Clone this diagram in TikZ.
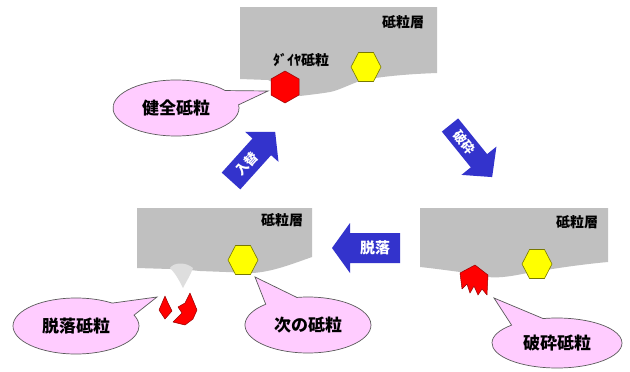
\documentclass[tikz,border=0pt]{standalone}
\usepackage{fontspec}
\newfontfamily\jp{Noto Sans CJK JP}
\usetikzlibrary{shapes.callouts}
\definecolor{layergray}{RGB}{192,192,192}
\definecolor{craterg}{RGB}{222,222,222}
\definecolor{arrowblue}{RGB}{51,51,204}
\definecolor{calloutpink}{RGB}{255,204,255}
\definecolor{bubbleline}{RGB}{90,90,90}
\definecolor{hexred}{RGB}{255,0,0}
\definecolor{hexredline}{RGB}{150,0,0}
\definecolor{hexyellow}{RGB}{255,255,0}
\definecolor{hexyellowline}{RGB}{120,120,0}
\tikzset{
  layer/.style={fill=layergray},
  layertext/.style={font=\jp\bfseries\fontsize{14}{14}\selectfont, inner sep=0pt},
  arrowtext/.style={font=\jp\bfseries\fontsize{15}{15}\selectfont, text=white, inner sep=0pt},
  smallarrowtext/.style={font=\jp\bfseries\fontsize{13}{13}\selectfont},
  bubble/.style={ellipse callout, draw=bubbleline, line width=0.7pt, fill=calloutpink,
    minimum width=126pt, minimum height=56pt, inner sep=0pt, callout pointer arc=32,
    font=\jp\bfseries\fontsize{17}{17}\selectfont},
  yhex/.style={fill=hexyellow, draw=hexyellowline, line width=0.6pt},
  rgrain/.style={fill=hexred, draw=hexredline, line width=0.5pt, line join=round},
}
% #1 tail centre, #2 angle, #3 length, #4 body width, #5 head width, #6 head length, #7 text options, #8 text, #9 name
\newcommand\blkarrow[9]{%
  \begin{scope}[shift={#1},rotate=#2]
    \fill[arrowblue] (0,-#4/2) -- ({#3-#6},-#4/2) -- ({#3-#6},-#5/2) -- (#3,0) -- ({#3-#6},#5/2) -- ({#3-#6},#4/2) -- (0,#4/2) -- cycle;
    \node[arrowtext,#7] (#9) at ({(#3-#6)/2},0) {#8};
  \end{scope}}
\newcommand\yellowhex[1]{%
  \begin{scope}[shift={#1}]
    \filldraw[yhex] (-15,0) -- (-7.5,-14.5) -- (7.5,-14.5) -- (15,0) -- (7.5,14.5) -- (-7.5,14.5) -- cycle;
  \end{scope}}
\begin{document}
\begin{tikzpicture}[x=1pt,y=-1pt]
\useasboundingbox (0,0) rectangle (630,372);
\fill[white] (0,0) rectangle (630,372);

% ---- top panel ----
\fill[layer] (240,7) -- (437,7) -- (437,73) .. controls (410,74) and (385,76) .. (363,80)
  .. controls (350,84) and (340,90) .. (330,92) .. controls (318,94) and (308,95) .. (300,96)
  -- (268,80) -- (240,79) -- cycle;
\node[layertext] (layerT) at (403,22) {砥粒層};
\node[layertext] (diaT) at (301,60) {ﾀﾞｲﾔ砥粒};
\filldraw[rgrain] (285,71) -- (299,79) -- (299,95) -- (285,103) -- (271,95) -- (271,79) -- cycle;
\yellowhex{(366,67)}
\coordinate (tipA) at (268,91);
\node[bubble, callout absolute pointer={(tipA)}] (healthy) at (176,108) {健全砥粒};

% ---- arrows ----
\blkarrow{(231,181)}{48}{66}{25}{45}{20}{smallarrowtext,rotate=48}{入替}{arrIn}
\blkarrow{(450,125)}{-51}{67}{21}{45}{21}{smallarrowtext,rotate=-51}{破砕}{arrBreak}
\blkarrow{(400,248)}{180}{68}{30}{50}{18}{rotate=0}{脱落}{arrDrop}

% ---- bottom-left panel ----
\fill[layer] (137,208) -- (312,208) -- (312,257) .. controls (292,264) and (272,272) .. (252,273)
  -- (200,271) .. controls (190,270) and (180,269) .. (170,269) -- (137,268) -- cycle;
\fill[craterg] (170,268) .. controls (174,262) and (186,262) .. (193,268)
  .. controls (190,276) and (186,282) .. (183,288) .. controls (180,282) and (176,274) .. (170,268) -- cycle;
\node[layertext] (layerL) at (282,220) {砥粒層};
\yellowhex{(243,260)}
\filldraw[rgrain] (165,296) -- (168,303) -- (172,311) -- (165,319) -- (159,310) -- cycle;
\filldraw[rgrain] (173,322) -- (182,313) -- (178,307) -- (185,303) -- (190,293) -- (197,310) -- (193,319) -- (185,325) -- cycle;
\coordinate (tipB) at (157,297);
\node[bubble, callout absolute pointer={(tipB)}] (dropped) at (76,326) {脱落砥粒};
\coordinate (tipC) at (255,277);
\node[bubble, callout absolute pointer={(tipC)}] (nextg) at (308,325) {次の砥粒};

% ---- bottom-right panel ----
\fill[layer] (420,208) -- (608,208) -- (608,262) .. controls (575,265) and (545,270) .. (522,274)
  .. controls (508,277) and (496,278) .. (488,277) -- (460,272)
  .. controls (445,270) and (430,268) .. (420,267) -- cycle;
\node[layertext] (layerR) at (577,222) {砥粒層};
\yellowhex{(537,264)}
\filldraw[rgrain] (460,273) -- (475,265) -- (488,275) -- (487,295) -- (482,289) -- (478,295)
  -- (474,286) -- (470,293) -- (467,284) -- (462,289) -- cycle;
\coordinate (tipD) at (494,298);
\node[bubble, minimum width=130pt, minimum height=50pt, callout absolute pointer={(tipD)}] (broken) at (557,343) {破砕砥粒};
\end{tikzpicture}
\end{document}
